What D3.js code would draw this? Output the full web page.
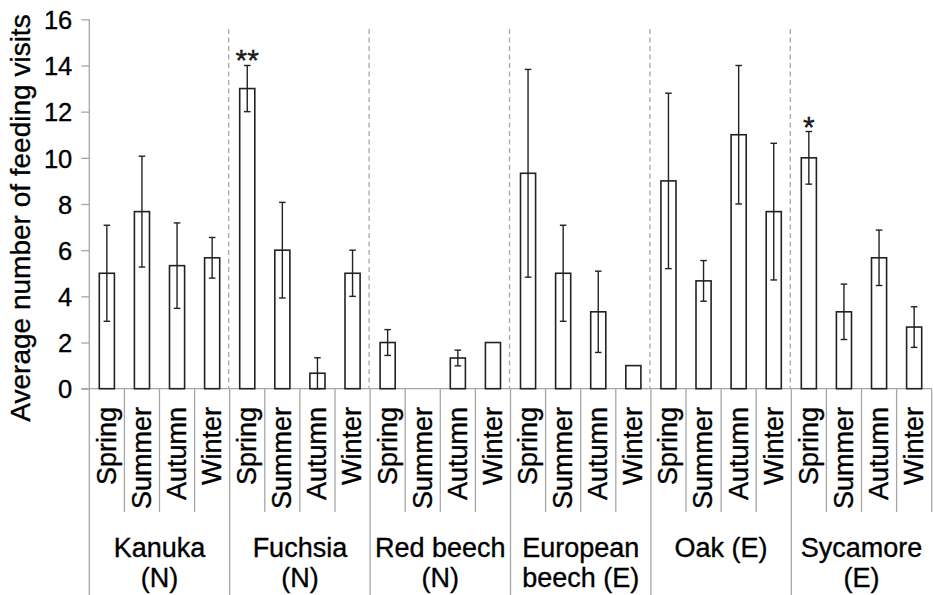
<!DOCTYPE html>
<html>
<head>
<meta charset="utf-8">
<script src="https://cdn.jsdelivr.net/npm/d3@7"></script>
<style>
  html, body { margin: 0; padding: 0; background: #fff; }
  svg { display: block; font-family: "Liberation Sans", Arial, sans-serif; }
  svg text { stroke: #000; stroke-width: 0.35px; }
</style>
</head>
<body>
<svg id="chart" width="933" height="595"></svg>
<script>
// ---- data ----
const groups = ["Kanuka (N)", "Fuchsia (N)", "Red beech (N)", "European beech (E)", "Oak (E)", "Sycamore (E)"];
const groupLines = [["Kanuka", "(N)"], ["Fuchsia", "(N)"], ["Red beech", "(N)"], ["European", "beech (E)"], ["Oak (E)"], ["Sycamore", "(E)"]];
const seasons = ["Spring", "Summer", "Autumn", "Winter"];
const means = [
  [5, 7.67, 5.33, 5.67],
  [13, 6, 0.67, 5],
  [2, 0, 1.33, 2],
  [9.33, 5, 3.33, 1],
  [9, 4.67, 11, 7.67],
  [10, 3.33, 5.67, 2.67]
];
const errors = [
  [2.08, 2.4, 1.85, 0.88],
  [1, 2.07, 0.67, 1],
  [0.56, null, 0.34, null],
  [4.5, 2.08, 1.76, null],
  [3.8, 0.88, 3, 2.96],
  [1.14, 1.2, 1.2, 0.88]
];
const significance = [
  ["", "", "", ""],
  ["**", "", "", ""],
  ["", "", "", ""],
  ["", "", "", ""],
  ["", "", "", ""],
  ["*", "", "", ""]
];
const yTicks = [0, 2, 4, 6, 8, 10, 12, 14, 16];
const yTitle = "Average number of feeding visits";

// ---- layout ----
const svg = d3.select("#chart");
const plotLeft = 89.3, plotRight = 931.7, plotTop = 19.3, plotBase = 388.7;
const gridGray = "#a6a6a6";
const ink = "#222";

const rows = [];
groups.forEach((g, gi) => seasons.forEach((s, si) => rows.push({
  key: g + "|" + s, group: gi, season: s, mean: means[gi][si], err: errors[gi][si], sig: significance[gi][si]
})));

const x = d3.scaleBand().domain(rows.map(d => d.key)).range([plotLeft, plotRight]).padding(0);
const y = d3.scaleLinear().domain([0, 16]).range([plotBase, plotTop]);
const bw = x.bandwidth() * 0.43;

// dashed group separators (plot area)
for (let gi = 1; gi < groups.length; gi++) {
  const xx = x(groups[gi] + "|" + seasons[0]) - 1;
  svg.append("line").attr("x1", xx).attr("x2", xx).attr("y1", 29).attr("y2", plotBase)
    .attr("stroke", "#a8a8a8").attr("stroke-width", 1.3).attr("stroke-dasharray", "5,3.5");
}

// y axis
const yAxis = d3.axisLeft(y).tickValues(yTicks).tickSize(8).tickPadding(9);
const gy = svg.append("g").attr("transform", `translate(${plotLeft},0)`).call(yAxis);
gy.select(".domain").remove();
gy.selectAll(".tick line").attr("stroke", gridGray).attr("stroke-width", 1.3);
gy.selectAll(".tick text").attr("font-size", "25.5px").attr("fill", "#000")
  .attr("font-family", "Liberation Sans, Arial, sans-serif").attr("dy", "0.36em");
svg.append("line").attr("x1", plotLeft).attr("x2", plotLeft).attr("y1", plotTop).attr("y2", 595)
  .attr("stroke", gridGray).attr("stroke-width", 1.3);

// x axis baseline
svg.append("line").attr("x1", plotLeft - 8).attr("x2", plotRight).attr("y1", plotBase).attr("y2", plotBase)
  .attr("stroke", gridGray).attr("stroke-width", 1.3);

// category separators below axis
rows.forEach((d, i) => {
  const xx = x(d.key) + x.bandwidth();
  const isGroupEnd = (i % 4 === 3) && i < rows.length - 1;
  svg.append("line").attr("x1", xx).attr("x2", xx).attr("y1", plotBase)
    .attr("y2", isGroupEnd ? 595 : 512)
    .attr("stroke", gridGray).attr("stroke-width", 1.3);
});

// bars
svg.append("g").selectAll("rect").data(rows.filter(d => d.mean > 0)).join("rect")
  .attr("x", d => x(d.key) + (x.bandwidth() - bw) / 2)
  .attr("y", d => y(d.mean))
  .attr("width", bw)
  .attr("height", d => y(0) - y(d.mean))
  .attr("fill", "#fff").attr("stroke", ink).attr("stroke-width", 1.6);

// error bars
const eg = svg.append("g").attr("stroke", ink).attr("stroke-width", 1.4);
rows.filter(d => d.err != null).forEach(d => {
  const cx = x(d.key) + x.bandwidth() / 2;
  const y1 = y(d.mean + d.err), y2 = y(Math.max(0, d.mean - d.err));
  eg.append("line").attr("x1", cx).attr("x2", cx).attr("y1", y1).attr("y2", y2);
  eg.append("line").attr("x1", cx - 3.3).attr("x2", cx + 3.3).attr("y1", y1).attr("y2", y1);
  eg.append("line").attr("x1", cx - 3.3).attr("x2", cx + 3.3).attr("y1", y2).attr("y2", y2);
});

// significance markers
svg.append("g").selectAll("text").data(rows.filter(d => d.sig)).join("text")
  .attr("x", d => x(d.key) + x.bandwidth() / 2)
  .attr("y", d => y(d.mean + (d.err || 0)) + 5)
  .attr("text-anchor", "middle").attr("font-size", "30px").attr("fill", ink)
  .text(d => d.sig);

// season labels (rotated)
svg.append("g").selectAll("text").data(rows).join("text")
  .attr("transform", d => `translate(${x(d.key) + x.bandwidth() / 2},407) rotate(-90)`)
  .attr("text-anchor", "end").attr("dy", "0.33em")
  .attr("font-size", "27px").attr("fill", "#000")
  .text(d => d.season);

// group labels
groups.forEach((g, gi) => {
  const x0 = x(g + "|" + seasons[0]);
  const x1 = x(g + "|" + seasons[3]) + x.bandwidth();
  const t = svg.append("text").attr("x", (x0 + x1) / 2).attr("y", 556.5)
    .attr("text-anchor", "middle").attr("font-size", "27px").attr("fill", "#000");
  groupLines[gi].forEach((ln, li) => {
    t.append("tspan").attr("x", (x0 + x1) / 2).attr("dy", li === 0 ? 0 : 30).text(ln);
  });
});

// y title
svg.append("text").attr("transform", `translate(30,218) rotate(-90)`)
  .attr("text-anchor", "middle").attr("font-size", "28px").attr("fill", "#000")
  .text(yTitle);
</script>
</body>
</html>
